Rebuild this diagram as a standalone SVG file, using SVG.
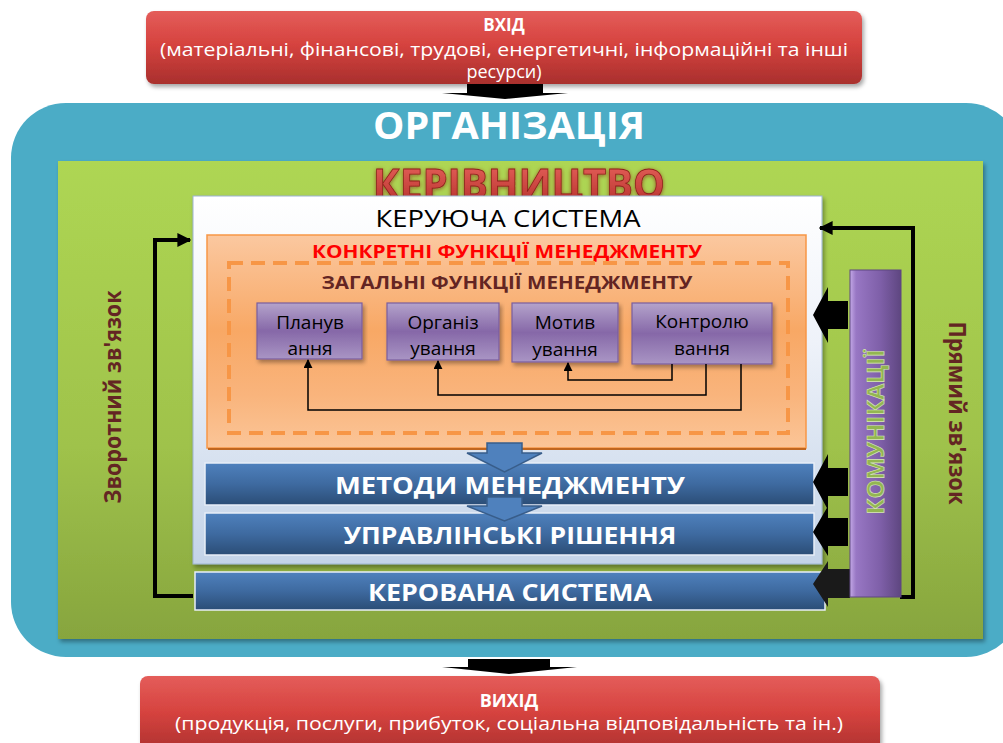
<svg xmlns="http://www.w3.org/2000/svg" width="1003" height="743" viewBox="0 0 1003 743">
<defs>
<linearGradient id="gRed" x1="0" y1="0" x2="0" y2="1"><stop offset="0" stop-color="#e45d5a"/><stop offset="0.45" stop-color="#d6433f"/><stop offset="1" stop-color="#a92f2d"/></linearGradient>
<linearGradient id="gGreen" x1="0" y1="0" x2="0" y2="1"><stop offset="0" stop-color="#aed653"/><stop offset="0.6" stop-color="#9fc24b"/><stop offset="1" stop-color="#87a53e"/></linearGradient>
<linearGradient id="gWhite" x1="0" y1="0" x2="0" y2="1"><stop offset="0" stop-color="#ffffff"/><stop offset="0.4" stop-color="#eef2f9"/><stop offset="1" stop-color="#c3d3e8"/></linearGradient>
<linearGradient id="gOrange" x1="0" y1="0" x2="0" y2="1"><stop offset="0" stop-color="#fbc8a0"/><stop offset="0.45" stop-color="#f8a865"/><stop offset="0.75" stop-color="#f9b47c"/><stop offset="1" stop-color="#fbc597"/></linearGradient>
<linearGradient id="gBlue" x1="0" y1="0" x2="0" y2="1"><stop offset="0" stop-color="#4f81bd"/><stop offset="0.5" stop-color="#3e6aa0"/><stop offset="1" stop-color="#2b4d76"/></linearGradient>
<linearGradient id="gPurple" x1="0" y1="0" x2="0" y2="1"><stop offset="0" stop-color="#b4a3cb"/><stop offset="0.5" stop-color="#8668a8"/><stop offset="1" stop-color="#a995c4"/></linearGradient>
<linearGradient id="gPurpleBar" x1="0" y1="0" x2="1" y2="0"><stop offset="0" stop-color="#c3a8e6"/><stop offset="0.12" stop-color="#9877c4"/><stop offset="0.6" stop-color="#7e5fa8"/><stop offset="1" stop-color="#5e4680"/></linearGradient>
<linearGradient id="gKer" x1="0" y1="0" x2="0" y2="1"><stop offset="0" stop-color="#ee6a63"/><stop offset="1" stop-color="#b02a26"/></linearGradient>
<filter id="sh" x="-5%" y="-10%" width="110%" height="130%"><feDropShadow dx="2" dy="3" stdDeviation="2" flood-color="#000" flood-opacity="0.35"/></filter>
<filter id="glow" x="-5%" y="-20%" width="110%" height="140%"><feDropShadow dx="0" dy="1" stdDeviation="2" flood-color="#7a1010" flood-opacity="0.6"/></filter>
<clipPath id="kerClip"><rect x="300" y="150" width="420" height="46"/></clipPath>
<marker id="ah" viewBox="0 0 10 10" refX="9" refY="5" markerWidth="6" markerHeight="6" orient="auto-start-reverse"><path d="M0,0 L10,5 L0,10 z" fill="#000"/></marker>
<marker id="ahBig" viewBox="0 0 10 10" refX="9" refY="5" markerWidth="3.5" markerHeight="3.5" orient="auto"><path d="M0,0 L10,5 L0,10 z" fill="#000"/></marker>
<style>
text{font-family:"Open Sans","Liberation Sans",Arial,sans-serif;text-anchor:middle}
.w{fill:#fff}
.b{font-weight:bold}
.brown{fill:#632523;font-weight:bold}
.blk{fill:#000}
.pbox{fill:url(#gPurple);stroke:#7a5e9e;stroke-width:1.2;filter:url(#sh)}
.pt{font-size:19px;fill:#000}
.bbox{fill:url(#gBlue);stroke:#e8eef8;stroke-width:1.5}
.bt{font-size:24px;fill:#fff;font-weight:bold}
.thin{fill:none;stroke:#000;stroke-width:1.5;marker-end:url(#ah)}
.thick{fill:none;stroke:#000;stroke-width:4;marker-end:url(#ahBig)}
.blockL{fill:#000}
.blockB{fill:#4f81bd;stroke:#385d8a;stroke-width:1.5}
</style>
</defs>
<rect width="1003" height="743" fill="#fff"/>

<g id="input">
<rect x="146" y="11" width="716" height="73" rx="8" fill="url(#gRed)" filter="url(#sh)"/>
<text x="504" y="31" class="w b" font-size="17">ВХІД</text>
<text x="504" y="56" class="w" font-size="18" textLength="688" lengthAdjust="spacingAndGlyphs">(матеріальні, фінансові, трудові, енергетичні, інформаційні та інші</text>
<text x="504" y="78" class="w" font-size="18">ресурси)</text>
</g>

<g id="organization">
<rect x="11" y="103" width="1010" height="554" rx="55" fill="#4bacc6"/>
<text x="509" y="139" class="w b" font-size="37" textLength="272" lengthAdjust="spacingAndGlyphs">ОРГАНІЗАЦІЯ</text>
</g>

<g id="management">
<rect x="58" y="161" width="925" height="478" fill="url(#gGreen)" filter="url(#sh)"/>
<g clip-path="url(#kerClip)">
<text x="519" y="199" font-size="42" font-weight="bold" fill="url(#gKer)" stroke="#8e1d1a" stroke-width="0.8" filter="url(#glow)" textLength="292" lengthAdjust="spacingAndGlyphs">КЕРІВНИЦТВО</text>
</g>
</g>

<g id="controlling-system">
<rect x="193" y="196" width="629" height="368" fill="url(#gWhite)" stroke="#9db4d3" stroke-width="1" filter="url(#sh)"/>
<text x="508" y="227" class="blk" font-size="24" textLength="265" lengthAdjust="spacingAndGlyphs">КЕРУЮЧА СИСТЕМА</text>
</g>

<g id="specific-functions">
<rect x="207" y="235" width="599" height="213" fill="url(#gOrange)" stroke="#f79646" stroke-width="1.5"/>
<line x1="208" y1="449" x2="806" y2="449" stroke="#c0661f" stroke-width="2"/>
<text x="507" y="258" font-size="17" font-weight="bold" fill="#ff0000" textLength="390" lengthAdjust="spacingAndGlyphs">КОНКРЕТНІ ФУНКЦІЇ МЕНЕДЖМЕНТУ</text>
</g>

<g id="general-functions">
<rect x="229" y="263" width="559" height="170" fill="none" stroke="#f79646" stroke-width="4" stroke-dasharray="14 8"/>
<text x="507" y="289" font-size="17" class="brown" textLength="371" lengthAdjust="spacingAndGlyphs">ЗАГАЛЬНІ ФУНКЦІЇ МЕНЕДЖМЕНТУ</text>
</g>

<g id="planning">
<rect x="257" y="303" width="105" height="56" class="pbox"/>
<text x="310" y="329" class="pt">Планув</text>
<text x="310" y="355" class="pt">ання</text>
</g>
<g id="organizing">
<rect x="387" y="303" width="112" height="57" class="pbox"/>
<text x="443" y="329" class="pt">Організ</text>
<text x="443" y="355" class="pt">ування</text>
</g>
<g id="motivation">
<rect x="512" y="303" width="106" height="59" class="pbox"/>
<text x="565" y="329" class="pt">Мотив</text>
<text x="565" y="356" class="pt">ування</text>
</g>
<g id="control">
<rect x="632" y="303" width="140" height="61" class="pbox"/>
<text x="702" y="328" class="pt">Контролю</text>
<text x="702" y="355" class="pt">вання</text>
</g>

<g id="methods">
<rect x="205" y="463" width="609" height="42" class="bbox"/>
<text x="510" y="494" class="bt" textLength="350" lengthAdjust="spacingAndGlyphs">МЕТОДИ МЕНЕДЖМЕНТУ</text>
</g>
<g id="decisions">
<rect x="205" y="513" width="609" height="42" class="bbox"/>
<text x="510" y="544" class="bt" textLength="333" lengthAdjust="spacingAndGlyphs">УПРАВЛІНСЬКІ РІШЕННЯ</text>
</g>
<g id="managed-system">
<rect x="195" y="572" width="630" height="38" class="bbox"/>
<text x="510" y="601" class="bt" textLength="284" lengthAdjust="spacingAndGlyphs">КЕРОВАНА СИСТЕМА</text>
</g>

<g id="connectors">
<polygon points="467,84 543,84 543,93 568,93 505,99 442,93 467,93" fill="#000"/>
<polygon points="468,659 550,659 550,667 577,667 509,674 442,667 468,667" fill="#000"/>
<polyline points="672,364 672,380 568,380 568,363" class="thin"/>
<polyline points="706,364 706,395 438,395 438,361" class="thin"/>
<polyline points="741,364 741,410 308,410 308,360" class="thin"/>
<polygon points="487,443 522,443 522,453 542,453 504.5,472 467,453 487,453" class="blockB"/>
<polygon points="487,497 522,497 522,506 542,506 504.5,521 467,506 487,506" class="blockB"/>
<polyline points="193,596 155,596 155,240 190,240" class="thick"/>
<polyline points="900,597 913,597 913,228 820,228" class="thick"/>
<polygon points="848,301 828,301 828,287 813,315 828,343 828,329 848,329" class="blockL"/>
<polygon points="848,468 828,468 828,454 813,482 828,510 828,496 848,496" class="blockL"/>
<polygon points="848,518 828,518 828,506 813,532 828,556 828,546 848,546" class="blockL"/>
<polygon points="850,569 828,569 828,561 813,584 828,607 828,598 850,598" fill="#1a1a1a"/>
</g>

<g id="communications">
<rect x="850" y="270" width="51" height="327" fill="url(#gPurpleBar)" stroke="#5e4680" stroke-width="1"/>
<text transform="translate(884,432) rotate(-90)" font-size="24" font-weight="bold" fill="#93b651" stroke="#d8e6b8" stroke-width="0.6" textLength="165" lengthAdjust="spacingAndGlyphs">КОМУНІКАЦІЇ</text>
</g>

<g id="feedback-label">
<text transform="translate(121,397) rotate(-90)" font-size="24" class="brown" textLength="213" lengthAdjust="spacingAndGlyphs">Зворотний зв'язок</text>
</g>
<g id="direct-label">
<text transform="translate(949,413) rotate(90)" font-size="24" class="brown" textLength="183" lengthAdjust="spacingAndGlyphs">Прямий зв'язок</text>
</g>

<g id="output">
<rect x="140" y="676" width="740" height="80" rx="8" fill="url(#gRed)" filter="url(#sh)"/>
<text x="509" y="707" class="w b" font-size="18">ВИХІД</text>
<text x="509" y="730" class="w" font-size="19" textLength="668" lengthAdjust="spacingAndGlyphs">(продукція, послуги, прибуток, соціальна відповідальність та ін.)</text>
</g>
</svg>
